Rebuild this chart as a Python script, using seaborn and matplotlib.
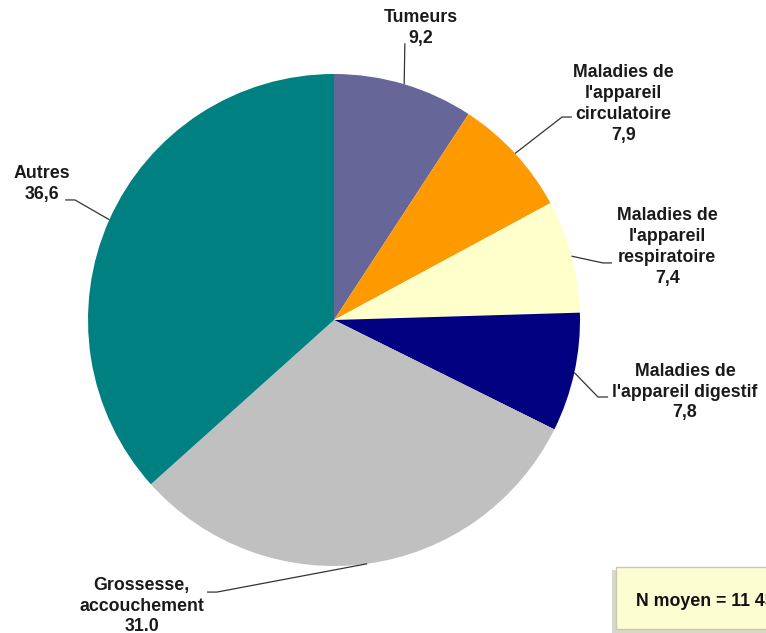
import numpy as np
import seaborn as sns
import matplotlib.pyplot as plt
from matplotlib.patches import Rectangle

sns.set_style("white")
plt.rcParams['font.family'] = ['Liberation Sans', 'DejaVu Sans']

# Data
categories = ["Tumeurs", "Maladies de\nl'appareil\ncirculatoire", "Maladies de\nl'appareil\nrespiratoire",
              "Maladies de\nl'appareil digestif", "Grossesse,\naccouchement", "Autres"]
values = [9.2, 7.9, 7.4, 7.8, 31.0, 36.6]
value_labels = ["9,2", "7,9", "7,4", "7,8", "31.0", "36,6"]
colors = ["#666699", "#FF9900", "#FFFFCC", "#000080", "#C0C0C0", "#008080"]

# label text centres and leader elbows (in pie radius units)
label_pos = [(0.353, 1.187), (1.177, 0.878), (1.355, 0.297), (1.427, -0.293), (-0.781, -1.163), (-1.187, 0.553)]
elbows = [(0.288, 1.125), (0.927, 0.825), (1.093, 0.232), (1.073, -0.313), (-0.476, -1.106), (-1.053, 0.488)]
tails = [(0.288, 1.125), (0.967, 0.825), (1.13, 0.232), (1.114, -0.313), (-0.516, -1.106), (-1.093, 0.488)]

fig = plt.figure(figsize=(7.66, 6.33), dpi=100)
# pie centre at (334, 320) px, radius 246 px
ax = fig.add_axes([(334 - 246) / 766, (633 - 320 - 246) / 633, 492 / 766, 492 / 633])

wedges, _ = ax.pie(values, colors=colors, startangle=90, counterclock=False,
                   wedgeprops=dict(linewidth=0))
ax.set_xlim(-1, 1)
ax.set_ylim(-1, 1)
ax.set_aspect('equal')
ax.axis('off')

for w, cat, lab, pos, elb, tail in zip(wedges, categories, value_labels, label_pos, elbows, tails):
    ang = np.deg2rad((w.theta1 + w.theta2) / 2)
    x0, y0 = np.cos(ang), np.sin(ang)
    ax.plot([x0, elb[0], tail[0]], [y0, elb[1], tail[1]], color="#333333", lw=0.9,
            clip_on=False, solid_capstyle='butt')
    ax.text(pos[0], pos[1], cat + "\n" + lab, ha='center', va='center', fontsize=12.8,
            fontweight='bold', color="#1a1a1a", linespacing=1.3, clip_on=False)

# N box in the bottom right corner, cut by the figure edge
fig.patches.append(Rectangle((612 / 766, 1 - 633 / 633), 160 / 766, 63 / 633, transform=fig.transFigure,
                             facecolor="#D8D8C8", edgecolor="none"))
fig.patches.append(Rectangle((616 / 766, 1 - 629 / 633), 160 / 766, 62 / 633, transform=fig.transFigure,
                             facecolor="#FDFDD2", edgecolor="#C8C8B4", linewidth=1.0))
fig.text(636 / 766, 1 - 602 / 633, "N moyen = 11 452", ha='left', va='center', fontsize=12.8,
         fontweight='bold', color="#111111")

fig.savefig("out.png", dpi=100, facecolor="white")
